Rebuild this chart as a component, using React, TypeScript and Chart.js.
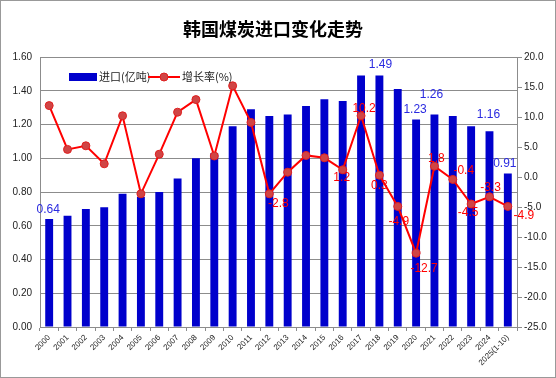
import React, { useEffect, useRef } from "react";
import { Chart, registerables } from "chart.js";

Chart.register(...registerables);

const title = "韩国煤炭进口变化走势";
const barName = "进口(亿吨)";
const lineName = "增长率(%)";

const categories = [
  "2000", "2001", "2002", "2003", "2004", "2005", "2006", "2007", "2008", "2009",
  "2010", "2011", "2012", "2013", "2014", "2015", "2016", "2017", "2018", "2019",
  "2020", "2021", "2022", "2023", "2024", "2025(1-10)",
];

const imports = [
  0.64, 0.66, 0.70, 0.71, 0.79, 0.77, 0.80, 0.88, 1.00, 1.03,
  1.19, 1.29, 1.25, 1.26, 1.31, 1.35, 1.34, 1.49, 1.49, 1.41,
  1.23, 1.26, 1.25, 1.19, 1.16, 0.91,
];

const growth = [
  11.9, 4.6, 5.2, 2.2, 10.2, -2.8, 3.8, 10.8, 12.9, 3.5,
  15.2, 9.1, -2.8, 0.8, 3.6, 3.2, 1.2, 10.2, 0.3, -4.9,
  -12.7, 1.8, -0.4, -4.5, -3.3, -4.9,
];

// which points carry a value label, and label offsets (style only)
const barLabelOffsets: Record<number, [number, number]> = {
  0: [-1, -9], 18: [1, -11], 20: [-1, -10], 21: [-3, -20], 24: [-1, -17], 25: [-3, -10],
};
const lineLabelOffsets: Record<number, [number, number]> = {
  12: [9, 10], 16: [-1, 8], 17: [3, -7], 18: [0, 10], 19: [1, 15], 20: [8, 15],
  21: [2, -8], 22: [11, -9], 23: [-3, 9], 24: [1, -9], 25: [16, 9],
};

const BLUE = "#0000CC";
const RED = "#FF0000";
const GRID = "#8c8c8c";
const TEXT = "#222222";
const LAT = "'Liberation Sans', Arial, sans-serif";
const CJK = "'Noto Sans CJK SC', sans-serif";

const decor = {
  id: "decor",
  beforeDraw(chart: any) {
    const c = chart.ctx;
    c.save();
    c.fillStyle = "#fff";
    c.fillRect(0, 0, chart.width, chart.height);
    c.restore();
  },
  afterDatasetsDraw(chart: any) {
    const c = chart.ctx;
    c.save();
    c.font = `12px ${LAT}`;
    c.textAlign = "center";
    c.textBaseline = "middle";
    const barMeta = chart.getDatasetMeta(1);
    c.fillStyle = "#2a2ae0";
    Object.keys(barLabelOffsets).forEach((k) => {
      const i = Number(k);
      const el = barMeta.data[i];
      const [dx, dy] = barLabelOffsets[i];
      c.fillText(imports[i].toFixed(2), el.x + dx, el.y + dy);
    });
    const lineMeta = chart.getDatasetMeta(0);
    c.fillStyle = RED;
    Object.keys(lineLabelOffsets).forEach((k) => {
      const i = Number(k);
      const el = lineMeta.data[i];
      const [dx, dy] = lineLabelOffsets[i];
      c.fillText(growth[i].toFixed(1), el.x + dx, el.y + dy);
    });
    c.restore();
  },
  afterDraw(chart: any) {
    const c = chart.ctx;
    c.save();
    // title
    c.fillStyle = "#000";
    c.font = `bold 18px ${CJK}`;
    c.textAlign = "center";
    c.textBaseline = "middle";
    c.fillText(title, 273, 29);
    // legend
    c.fillStyle = BLUE;
    c.fillRect(69, 73, 28, 8);
    c.font = `11px ${CJK}`;
    c.textAlign = "left";
    c.fillStyle = TEXT;
    c.fillText(barName, 99, 77);
    c.strokeStyle = RED;
    c.lineWidth = 2;
    c.beginPath();
    c.moveTo(148, 77);
    c.lineTo(180, 77);
    c.stroke();
    c.beginPath();
    c.arc(164, 77, 4, 0, Math.PI * 2);
    c.fillStyle = "#d04545";
    c.fill();
    c.lineWidth = 1;
    c.strokeStyle = "#e02020";
    c.stroke();
    c.fillStyle = TEXT;
    c.fillText(lineName, 182, 77);
    // outer border
    c.strokeStyle = "#999";
    c.lineWidth = 1;
    c.strokeRect(0.5, 0.5, chart.width - 1, chart.height - 1);
    c.restore();
  },
};

export default function App() {
  const ref = useRef<HTMLCanvasElement | null>(null);
  useEffect(() => {
    document.body.style.margin = "0";
    const chart = new Chart(ref.current as HTMLCanvasElement, {
      type: "bar",
      data: {
        labels: categories,
        datasets: [
          {
            type: "line",
            label: lineName,
            data: growth,
            yAxisID: "y1",
            borderColor: RED,
            borderWidth: 2,
            pointRadius: 4,
            pointBackgroundColor: "#d04545",
            pointBorderColor: "#e02020",
            pointBorderWidth: 1,
            tension: 0,
            order: 0,
          } as any,
          {
            type: "bar",
            label: barName,
            data: imports,
            yAxisID: "y",
            backgroundColor: BLUE,
            categoryPercentage: 1,
            barPercentage: 0.43,
            order: 1,
          } as any,
        ],
      },
      options: {
        responsive: false,
        animation: false,
        layout: { padding: { top: 57, left: 0, right: 0, bottom: 0 } },
        plugins: { legend: { display: false }, title: { display: false }, tooltip: { enabled: false } },
        scales: {
          x: {
            type: "category",
            offset: true,
            grid: { offset: true, drawOnChartArea: false, drawTicks: true, tickLength: 4, color: GRID },
            border: { display: true, color: GRID },
            ticks: {
              minRotation: 45,
              maxRotation: 45,
              autoSkip: false,
              font: { size: 8, family: LAT },
              color: TEXT,
              padding: 2,
            },
            afterFit: (s: any) => { s.height = 51; },
          },
          y: {
            position: "left",
            min: 0,
            max: 1.6,
            ticks: {
              stepSize: 0.2,
              callback: (v: any) => Number(v).toFixed(2),
              font: { size: 10, family: LAT },
              color: TEXT,
              padding: 8,
            },
            grid: { color: GRID, drawTicks: false },
            border: { display: true, color: GRID },
            afterFit: (s: any) => { s.width = 40; },
          },
          y1: {
            position: "right",
            min: -25,
            max: 20,
            ticks: {
              stepSize: 5,
              callback: (v: any) => Number(v).toFixed(1),
              font: { size: 10, family: LAT },
              color: TEXT,
              padding: 2,
            },
            grid: { drawOnChartArea: false, drawTicks: true, tickLength: 5, color: GRID },
            border: { display: true, color: GRID },
            afterFit: (s: any) => { s.width = 39; },
          },
        },
      },
      plugins: [decor],
    });
    return () => chart.destroy();
  }, []);
  return (
    <div style={{ position: "absolute", left: 0, top: 0 }}>
      <canvas ref={ref} width={556} height={378} style={{ width: 556, height: 378, display: "block" }} />
    </div>
  );
}
